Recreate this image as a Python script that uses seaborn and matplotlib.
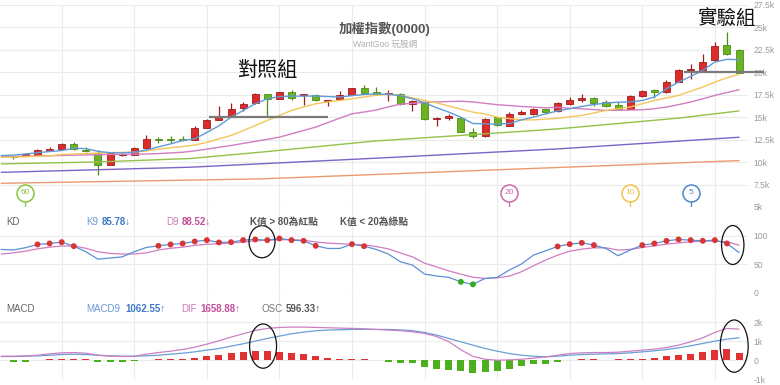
import numpy as np
import pandas as pd
import matplotlib
matplotlib.use("Agg")
import matplotlib.pyplot as plt
from matplotlib.patches import Ellipse
from matplotlib.ticker import FuncFormatter
import seaborn as sns

sns.set_theme(style="white")
plt.rcParams['font.family'] = ['Liberation Sans', 'Noto Sans CJK TC', 'DejaVu Sans']

# ---------------- data ----------------
weeks = list(range(61))
opens = [10640, 10690, 10840, 11290, 11440, 11990, 11330, 11030, 9690, 10760,
         10840, 11550, 12590, 12590, 12560, 12480, 13820, 14710, 15160, 16020,
         16540, 17540, 17060, 17770, 17500, 17470, 16800, 17060, 17470, 18210,
         17800, 17580, 17620, 16500, 16690, 14750, 14860, 14900, 13340, 12930,
         15010, 14040, 15310, 15350, 15870, 15700, 16430, 16870, 17130, 16690,
         16390, 15940, 17360, 18000, 17770, 18920, 20220, 20220, 21340, 23090,
         22460]
closes = [10600, 10900, 11360, 11510, 11990, 11440, 11270, 9720, 11030, 10870,
          11580, 12590, 12480, 12480, 12450, 13780, 14710, 15080, 15900, 16460,
          17620, 16980, 17770, 17170, 17560, 16950, 16870, 17430, 18210, 17690,
          17580, 17650, 16500, 16800, 14750, 14940, 15120, 13370, 12930, 14820,
          14080, 15380, 15570, 15900, 15570, 16550, 16870, 17170, 16580, 16240,
          15940, 17390, 17920, 17850, 18920, 20220, 20410, 21150, 22900, 22090,
          19930]
highs = [10700, 10990, 11440, 11660, 12140, 12220, 11730, 11400, 11100, 11030,
         11730, 13040, 12850, 12880, 12960, 13970, 14790, 16220, 16580, 16690,
         17690, 17620, 17840, 17990, 17620, 17620, 16950, 17920, 18280, 18580,
         18360, 18060, 17700, 16880, 16800, 15010, 15380, 15010, 13820, 14900,
         15050, 15570, 15760, 16020, 15940, 16650, 17300, 17540, 17200, 16950,
         16690, 17430, 17990, 18180, 19100, 20410, 20890, 22010, 23390, 24450,
         22640]
lows = [10300, 10650, 10800, 11250, 11400, 11360, 11180, 8610, 9650, 10690,
        10800, 11500, 12140, 12140, 12400, 12440, 13780, 14640, 15090, 15640,
        16500, 15010, 17020, 16950, 16310, 16800, 16200, 17000, 17430, 17540,
        17500, 16760, 16350, 15680, 14710, 13970, 14640, 13300, 12700, 12850,
        14040, 14000, 15200, 15270, 15310, 15600, 16400, 16690, 16280, 16130,
        15900, 15900, 17250, 17170, 17730, 18880, 19290, 20150, 21300, 21900,
        19900]

ma_weeks = list(range(-1, 61))
ma5 = [10730, 10780, 10900, 11050, 11180, 11290, 11550, 11500, 11200, 11050,
       11030, 11100, 11350, 11700, 12030, 12400, 12600, 13300, 14050, 15000,
       15750, 16500, 17050, 17300, 17350, 17350, 17370, 17300, 17250, 17400,
       17540, 17600, 17550, 17400, 17060, 16610, 16050, 15570, 15000, 14300,
       14270, 14230, 14300, 14700, 15010, 15380, 15700, 15950, 16200, 16420,
       16570, 16680, 16700, 16870, 17250, 18170, 18920, 19550, 20220, 21150,
       21450, 21420]
ma10 = [10540, 10560, 10600, 10650, 10700, 10840, 10900, 10950, 11000, 11050,
        11080, 11100, 11250, 11450, 11600, 11730, 11900, 12200, 12600, 12960,
        13500, 14080, 14640, 15200, 15750, 16150, 16500, 16700, 16870, 17050,
        17250, 17450, 17550, 17430, 17150, 16870, 16600, 16250, 15900, 15570,
        15350, 15010, 14850, 14710, 14700, 14790, 14880, 15040, 15200, 15480,
        15760, 15940, 16130, 16500, 16870, 17150, 17430, 17900, 18360, 18900,
        19400, 19780]
ma20 = [10620, 10630, 10650, 10680, 10710, 10740, 10770, 10800, 10830, 10850,
        10870, 10880, 10900, 10950, 11020, 11100, 11250, 11450, 11650, 11850,
        12080, 12310, 12540, 12780, 13150, 13520, 13900, 14400, 14900, 15380,
        15580, 15800, 16150, 16450, 16550, 16650, 16700, 16750, 16780, 16700,
        16550, 16400, 16300, 16200, 16120, 16050, 16100, 16000, 15940, 15850,
        15760, 15770, 15800, 15830, 15950, 16130, 16400, 16690, 17050, 17430,
        17750, 18060]
ma60_weeks = [-1, 7, 14.6, 20.4, 29.9, 41.9, 45, 50, 55, 60]
ma60 = [9800, 10020, 10400, 11100, 12350, 13410, 13700, 14300, 14900, 15700]
ma120_weeks = [-1, 14.6, 29.9, 45, 60]
ma120 = [8860, 9430, 10430, 11470, 12770]
ma240_weeks = [-1, 20.4, 41.9, 60]
ma240 = [7640, 8130, 9240, 10170]

k_values = [76, 75, 79, 84.7, 86.4, 88.7, 81.7, 72, 59, 61, 63, 72, 79.5, 82.3,
            84.7, 86.4, 89.9, 92.2, 88.2, 88.7, 92.2, 93.4, 92.2, 95.1, 92.2,
            91.0, 82.3, 77.7, 77.7, 85.2, 81.7, 76, 68, 54.5, 48.7, 33, 29.6,
            27.3, 19.5, 15.1, 25.5, 27.3, 40, 50.4, 66, 73.6, 81.2, 85.2, 87.5,
            83.5, 77.7, 65, 75, 83.5, 86.4, 91.0, 93.4, 92.2, 91.0, 92.2, 86.4,
            70.7]
d_values = [67.8, 70, 73, 77, 80, 82, 82, 78, 72, 69, 68, 68, 70, 75, 78, 80,
            83, 85, 86, 87, 89, 91, 92, 93, 93, 92, 89, 87, 86, 85, 84, 81, 77,
            70, 63, 52, 45.5, 38.5, 33, 27.5, 25.3, 26.5, 29.4, 37, 47.5, 57.4,
            66, 73, 76.5, 78.8, 78.8, 74.8, 76, 79.4, 82.3, 85.2, 87.5, 89.3,
            90.4, 90.4, 89.3, 83.5]

dif = [221, 221, 239, 273, 343, 396, 414, 379, 273, 221, 203, 221, 326, 414,
       484, 572, 694, 852, 1027, 1220, 1396, 1571, 1676, 1729, 1746, 1746,
       1729, 1711, 1694, 1676, 1659, 1624, 1590, 1560, 1500, 1414, 1250, 985,
       560, 210, 63, 11, 28, 63, 116, 186, 273, 361, 396, 414, 414, 431, 484,
       537, 589, 677, 799, 975, 1185, 1466, 1676, 1641]
macd9 = [203, 203, 221, 239, 273, 308, 326, 308, 273, 239, 221, 221, 239, 273,
         326, 379, 449, 537, 624, 747, 870, 1010, 1150, 1273, 1396, 1483, 1554,
         1589, 1606, 1624, 1624, 1624, 1624, 1600, 1560, 1466, 1326, 1150, 975,
         799, 624, 484, 361, 273, 221, 186, 221, 273, 308, 326, 343, 361, 396,
         449, 502, 572, 660, 765, 887, 1010, 1115, 1186]
osc = [-70, -70, 0, 60, 80, 80, 60, -60, -70, -60, -50, 40, 70, 80, 100, 130,
       236, 306, 376, 446, 516, 481, 429, 394, 324, 236, 131, 96, 70, 50, 30,
       -60, -120, -150, -340, -464, -516, -569, -656, -604, -534, -429, -306,
       -201, -166, -80, 0, 80, 80, 40, 50, 60, 80, 140, 236, 289, 359, 446,
       569, 586, 411]

marker_labels = ['60', '20', '10', '5']
marker_weeks = [1, 41, 51, 56]
marker_colors = ['#8cc43f', '#cc6aa8', '#f0c34a', '#4f86c6']

price_ticks = [5000, 7500, 10000, 12500, 15000, 17500, 20000, 22500, 25000, 27500]
kd_ticks = [0, 50, 100]
macd_ticks = [-1000, 0, 1000, 2000]
grid_weeks = [4, 10, 16, 22, 28, 34, 40, 46, 52, 58]

# ---------------- figure ----------------
W, H = 780, 385
fig = plt.figure(figsize=(7.8, 3.85), dpi=100)
fig.patch.set_facecolor('white')


def px_axes(left, top, right, bottom):
    return fig.add_axes([left / W, 1 - bottom / H, (right - left) / W, (bottom - top) / H])


ax_p = px_axes(0, 5, 748, 207)
ax_k = px_axes(0, 207, 748, 293)
ax_m = px_axes(0, 294, 748, 379.5)

GRID = '#ebebeb'
for ax in (ax_p, ax_k, ax_m):
    ax.set_facecolor('white')
    ax.set_xlim(-1.1, 60.74)
    for s in ax.spines.values():
        s.set_visible(False)
    ax.set_xticks(grid_weeks)
    ax.tick_params(axis='x', length=0, labelbottom=False)
    ax.yaxis.tick_right()
    ax.tick_params(axis='y', length=0, pad=4, labelsize=6.2, labelcolor='#9a9a9a')
    ax.grid(True, color=GRID, lw=0.8)
    ax.set_axisbelow(True)
    ax.set_xlabel('')
    ax.set_ylabel('')

ax_p.set_ylim(5000, 27500)
ax_p.set_yticks(price_ticks)
ax_p.yaxis.set_major_formatter(FuncFormatter(lambda v, p: f"{v/1000:g}k"))
ax_k.set_ylim(0, 150)
ax_k.set_yticks(kd_ticks)
ax_m.set_ylim(-1000, 3480)
ax_m.set_yticks(macd_ticks)
ax_m.yaxis.set_major_formatter(FuncFormatter(lambda v, p: "0" if v == 0 else f"{v/1000:g}k"))

# ---------------- candles ----------------
df = pd.DataFrame({'week': weeks, 'open': opens, 'close': closes,
                   'high': highs, 'low': lows})
up = df['close'] >= df['open']
RED_F, RED_E = '#dc2b2b', '#9e1c1c'
GRN_F, GRN_E = '#6cb323', '#4d8c14'
face = np.where(up, RED_F, GRN_F)
edge = np.where(up, RED_E, GRN_E)
ax_p.vlines(df['week'], df['low'], df['high'], colors=edge, lw=0.9, zorder=3)
body = (df['close'] - df['open']).abs().clip(lower=60)
ax_p.bar(df['week'], body, bottom=np.minimum(df['open'], df['close']),
         width=0.58, color=face, edgecolor=edge, lw=0.6, zorder=4)

# ---------------- moving averages ----------------
ma_lines = [
    (ma240_weeks, ma240, '#ea9a72'),
    (ma120_weeks, ma120, '#7d63c6'),
    (ma60_weeks, ma60, '#92c24a'),
    (ma_weeks, ma20, '#d17dc0'),
    (ma_weeks, ma10, '#f3c65a'),
    (ma_weeks, ma5, '#5f9bd6'),
]
for xs, ys, c in ma_lines:
    sns.lineplot(x=xs, y=ys, ax=ax_p, color=c, lw=1.0, legend=False, zorder=5)
ax_p.set_xlabel('')
ax_p.set_ylabel('')

# reference lines
ax_p.hlines(15000, 16.2, 26.0, color='#7a7a7a', lw=1.6, zorder=6)
ax_p.hlines(20000, 55.45, 62.1, color='#7a7a7a', lw=1.6, zorder=6, clip_on=False)

# MA start markers
for lab, wk, c in zip(marker_labels, marker_weeks, marker_colors):
    ax_p.vlines(wk, 5000, 5750, color=c, lw=0.9, zorder=6, clip_on=False)
    ax_p.scatter([wk], [6560], s=150, facecolor='white', edgecolor=c, lw=1.1,
                 zorder=7, clip_on=False)
    ax_p.text(wk, 6560, lab, color=c, fontsize=6, ha='center', va='center',
              zorder=8)

# ---------------- KD ----------------
sns.lineplot(x=ma_weeks, y=d_values, ax=ax_k, color='#d07cc0', lw=0.9, legend=False, zorder=3)
sns.lineplot(x=ma_weeks, y=k_values, ax=ax_k, color='#5b8fd6', lw=0.9, legend=False, zorder=4)
kd = pd.DataFrame({'week': ma_weeks, 'K': k_values})
kd = kd[kd['week'] >= 0]
hi = kd[kd['K'] > 80]
lo = kd[kd['K'] < 20]
sns.scatterplot(data=hi, x='week', y='K', ax=ax_k, color='#d93535', s=18,
                edgecolor='none', legend=False, zorder=5)
sns.scatterplot(data=lo, x='week', y='K', ax=ax_k, color='#35aa1f', s=18,
                edgecolor='none', legend=False, zorder=5)
ax_k.set_xlabel('')
ax_k.set_ylabel('')
ax_k.add_patch(Ellipse((20.56, 89.5), 2.15, 56, fill=False, ec='#111111', lw=0.9,
                       zorder=9, clip_on=False))
ax_k.add_patch(Ellipse((59.48, 83.7), 1.85, 68, fill=False, ec='#111111', lw=0.9,
                       zorder=9, clip_on=False))

# ---------------- MACD ----------------
osc_s = pd.Series(osc)
ax_m.bar(weeks, osc, width=0.58, color=np.where(osc_s >= 0, '#e03232', '#4caf1e'),
         lw=0, zorder=3)
sns.lineplot(x=ma_weeks, y=macd9, ax=ax_m, color='#6a9fd6', lw=0.9, legend=False, zorder=4)
sns.lineplot(x=ma_weeks, y=dif, ax=ax_m, color='#cc80c2', lw=0.9, legend=False, zorder=4)
ax_m.set_xlabel('')
ax_m.set_ylabel('')
ax_m.add_patch(Ellipse((20.65, 750), 2.23, 2320, fill=False, ec='#111111', lw=0.9,
                       zorder=9, clip_on=False))
ax_m.add_patch(Ellipse((59.6, 750), 2.31, 2740, fill=False, ec='#111111', lw=0.9,
                       zorder=9, clip_on=False))


# ---------------- texts ----------------
def ftext(x, y, s, **kw):
    fig.text(x / W, 1 - y / H, s, va='center', **kw)


ftext(385, 29, '加權指數(0000)', ha='center', fontsize=9.6, color='#555555',
      fontweight='bold', family=['Liberation Sans', 'Noto Sans CJK TC'])
ftext(385, 44, 'WantGoo 玩股網', ha='center', fontsize=6.2, color='#b0b0b0',
      family=['Liberation Sans', 'Noto Sans CJK TC'])
ftext(267, 70, '對照組', ha='center', fontsize=14.5, color='#111111',
      family=['Noto Sans CJK TC'])
ftext(726, 19, '實驗組', ha='center', fontsize=14, color='#111111',
      family=['Noto Sans CJK TC'])

HF = ['Liberation Sans', 'Noto Sans CJK TC', 'DejaVu Sans']
ftext(6, 222, 'KD', ha='left', fontsize=7, color='#666666', family=HF)
ftext(86, 222, 'K9', ha='left', fontsize=7, color='#6a9ad6', family=HF)
ftext(101.5, 222, '85.78↓', ha='left', fontsize=7, color='#3d78c6', fontweight='bold', family=HF)
ftext(166.5, 222, 'D9', ha='left', fontsize=7, color='#cc7ab8', family=HF)
ftext(181.5, 222, '88.52↓', ha='left', fontsize=7, color='#c2509c', fontweight='bold', family=HF)
ftext(250, 222, 'K值 > 80為紅點', ha='left', fontsize=7, color='#555555', fontweight='bold', family=HF)
ftext(340, 222, 'K值 < 20為綠點', ha='left', fontsize=7, color='#555555', fontweight='bold', family=HF)

ftext(6, 309, 'MACD', ha='left', fontsize=7, color='#666666', family=HF)
ftext(86, 309, 'MACD9', ha='left', fontsize=7, color='#6a9ad6', family=HF)
ftext(125, 309, '1062.55↑', ha='left', fontsize=7, color='#3d78c6', fontweight='bold', family=HF)
ftext(181.5, 309, 'DIF', ha='left', fontsize=7, color='#cc7ab8', family=HF)
ftext(200, 309, '1658.88↑', ha='left', fontsize=7, color='#c2509c', fontweight='bold', family=HF)
ftext(261.5, 309, 'OSC', ha='left', fontsize=7, color='#777777', family=HF)
ftext(286, 309, '596.33↑', ha='left', fontsize=7, color='#555555', fontweight='bold', family=HF)

fig.savefig('out.png', dpi=100, facecolor='white')
